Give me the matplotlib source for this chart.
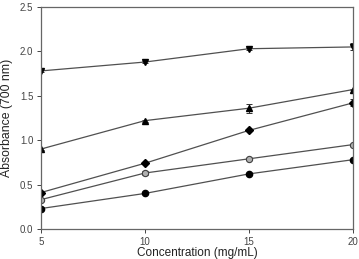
import numpy as np
import matplotlib.pyplot as plt

conc = [5, 10, 15, 20]
s_down = [1.78, 1.88, 2.03, 2.05]
e_down = [0.01, 0.01, 0.01, 0.04]
s_up = [0.90, 1.22, 1.36, 1.57]
e_up = [0.01, 0.01, 0.05, 0.01]
s_diam = [0.41, 0.74, 1.11, 1.42]
e_diam = [0.01, 0.01, 0.01, 0.04]
s_open = [0.33, 0.63, 0.79, 0.95]
e_open = [0.01, 0.02, 0.01, 0.01]
s_circ = [0.23, 0.40, 0.62, 0.78]
e_circ = [0.01, 0.01, 0.01, 0.01]

fig = plt.figure(figsize=(3.59, 2.59), dpi=100)
ax = fig.add_axes([0.114, 0.116, 0.869, 0.857])

lc = '#505050'
kw = dict(color=lc, lw=0.9, ecolor='#303030', elinewidth=0.7, capsize=2.5, capthick=0.7)
ax.errorbar(conc, s_down, yerr=e_down, marker='v', ms=5, mfc='k', mec='k', **kw)
ax.errorbar(conc, s_up, yerr=e_up, marker='^', ms=5, mfc='k', mec='k', **kw)
ax.errorbar(conc, s_diam, yerr=e_diam, marker='D', ms=4, mfc='k', mec='k', **kw)
ax.errorbar(conc, s_open, yerr=e_open, marker='o', ms=4.5, mfc='#b0b0b0', mec='#404040', mew=0.8, **kw)
ax.errorbar(conc, s_circ, yerr=e_circ, marker='o', ms=4.5, mfc='k', mec='k', **kw)

ax.set_xlim(5, 20)
ax.set_ylim(0, 2.5)
ax.set_xticks([5, 10, 15, 20])
ax.set_yticks(np.arange(0, 2.51, 0.5))
ax.set_yticklabels(['0.0', '0.5', '1.0', '1.5', '2.0', '2.5'])
ax.tick_params(labelsize=7, colors='#444444', length=3, width=0.7, pad=2.5)
for sp in ax.spines.values():
    sp.set_color('#666666')
    sp.set_linewidth(0.9)
ax.set_xlabel('Concentration (mg/mL)', fontsize=8.5, color='#222222', labelpad=0.3)
ax.set_ylabel('Absorbance (700 nm)', fontsize=8.8, color='#222222', labelpad=5)
for lab in ax.get_xticklabels() + ax.get_yticklabels():
    lab.set_family('Liberation Sans')
ax.xaxis.label.set_family('Liberation Sans')
ax.yaxis.label.set_family('Liberation Sans')

fig.savefig('out.png', dpi=100)
